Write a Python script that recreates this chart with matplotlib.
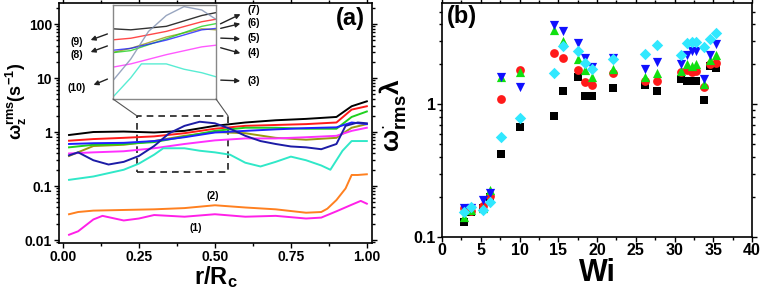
import numpy as np
import matplotlib
matplotlib.use('Agg')
import matplotlib.pyplot as plt
from matplotlib.ticker import MultipleLocator, LogLocator, FuncFormatter, NullFormatter
from matplotlib.patches import Rectangle, ConnectionPatch, FancyArrowPatch

plt.rcParams['font.family'] = ['Liberation Sans', 'DejaVu Sans']
plt.rcParams['font.weight'] = 'bold'
plt.rcParams['mathtext.fontset'] = 'custom'
plt.rcParams['mathtext.rm'] = 'Liberation Sans:bold'
plt.rcParams['mathtext.it'] = 'Liberation Sans:bold'
plt.rcParams['mathtext.bf'] = 'Liberation Sans:bold'
plt.rcParams['mathtext.default'] = 'bf'

# ---- panel (a): profiles along r/Rc ----
r_black = [0.02, 0.1, 0.2, 0.3, 0.4, 0.5, 0.6, 0.7, 0.8, 0.9, 0.95, 1.0]
v_black = [0.88, 1.0, 1.02, 0.98, 1.05, 1.3, 1.5, 1.65, 1.75, 1.9, 3.0, 3.7]
v_red = [0.69, 0.74, 0.78, 0.83, 0.95, 1.15, 1.3, 1.35, 1.4, 1.5, 2.6, 3.0]
v_green = [0.52, 0.58, 0.6, 0.65, 0.82, 1.05, 1.2, 1.2, 1.15, 1.15, 1.9, 2.4]
v_olive = [0.36, 0.55, 0.58, 0.68, 0.85, 1.0, 0.95, 0.78, 0.72, 0.78, 1.2, 1.4]
v_blue = [0.6, 0.62, 0.63, 0.68, 0.8, 0.98, 1.05, 1.12, 1.18, 1.22, 1.5, 1.4]
v_magenta = [0.4, 0.42, 0.44, 0.5, 0.6, 0.7, 0.76, 0.76, 0.8, 0.85, 1.05, 1.2]

r_navy = [0.02, 0.05, 0.1, 0.15, 0.2, 0.25, 0.3, 0.35, 0.4, 0.45, 0.5, 0.55, 0.6,
          0.65, 0.7, 0.75, 0.8, 0.85, 0.9, 0.93, 0.97, 1.0]
v_navy = [0.37, 0.42, 0.3, 0.25, 0.28, 0.36, 0.55, 0.95, 1.3, 1.55, 1.45, 1.15, 0.85,
          0.68, 0.6, 0.54, 0.52, 0.48, 0.6, 1.3, 1.5, 1.45]

r_cyan = [0.02, 0.1, 0.2, 0.25, 0.3, 0.33, 0.4, 0.45, 0.5, 0.55, 0.6, 0.65, 0.7,
          0.75, 0.8, 0.85, 0.88, 0.92, 0.95, 1.0]
v_cyan = [0.13, 0.15, 0.2, 0.26, 0.38, 0.5, 0.5, 0.45, 0.42, 0.38, 0.27, 0.23, 0.28,
          0.35, 0.3, 0.24, 0.2, 0.45, 0.68, 0.68]

r_low = [0.02, 0.05, 0.1, 0.2, 0.3, 0.4, 0.5, 0.6, 0.7, 0.8, 0.85, 0.87, 0.9,
         0.93, 0.95, 0.97, 1.0]
v_orange = [0.03, 0.033, 0.035, 0.036, 0.037, 0.039, 0.044, 0.04, 0.037, 0.032, 0.033,
            0.038, 0.055, 0.09, 0.16, 0.16, 0.165]
r_low2 = [0.02, 0.05, 0.1, 0.13, 0.2, 0.25, 0.3, 0.4, 0.5, 0.6, 0.7, 0.8, 0.85,
          0.9, 0.95, 0.98, 1.0]
v_mag1 = [0.0125, 0.0145, 0.024, 0.028, 0.023, 0.025, 0.029, 0.027, 0.03, 0.027, 0.028,
          0.025, 0.026, 0.034, 0.045, 0.053, 0.047]

# ---- panel (b): scaled rms vorticity vs Wi ----
wi = [2.9, 3.8, 5.3, 6.2, 7.6, 10.1, 14.5, 15.6, 17.5, 18.5, 19.4, 22.0, 26.2, 27.8,
      30.8, 31.6, 32.2, 32.8, 33.8, 34.6, 35.4]
b_black = [0.13, 0.155, 0.165, 0.2, 0.42, 0.68, 0.81, 1.27, 1.6, 1.15, 1.15, 1.33, 1.41,
           1.25, 1.56, 1.5, 1.5, 1.5, 1.08, 1.95, 1.89]
b_red = [0.165, 0.158, 0.17, 0.204, 1.09, 1.8, 2.45, 2.24, 1.8, 1.47, 1.41, 1.72, 1.5,
         1.5, 1.75, 1.8, 1.75, 1.77, 1.35, 2.02, 2.05]
b_green = [0.142, 0.16, 0.164, 0.226, 1.6, 1.75, 3.64, 2.99, 2.21, 1.8, 1.6, 1.85, 1.6,
           1.73, 1.77, 2.02, 1.95, 2.0, 1.43, 2.14, 2.34]
b_blue = [0.164, 0.165, 0.19, 0.213, 1.62, 1.35, 3.93, 3.56, 2.88, 2.24, 1.91, 2.25, 1.85,
          2.08, 2.02, 2.34, 2.52, 2.52, 1.54, 2.34, 2.86]
b_cyan = [0.153, 0.168, 0.16, 0.184, 0.568, 0.79, 1.72, 2.73, 2.52, 2.04, 1.85, 2.21, 2.38,
          2.81, 2.34, 2.91, 2.95, 2.95, 2.7, 3.12, 3.44]

W, H = 763, 297


def px(x, y):
    # pixel position (from top left) -> figure fraction
    return (x / W, 1 - y / H)


fig = plt.figure(figsize=(W / 100, H / 100), dpi=100)

ax = fig.add_axes([59 / W, 1 - 243 / H, 313 / W, 240 / H])
main_curves = [
    (r_black, v_black, 'black'),
    (r_black, v_red, '#ff1a1a'),
    (r_black, v_olive, '#9a9a10'),
    (r_black, v_green, '#1fd11f'),
    (r_black, v_blue, '#2020ff'),
    (r_black, v_magenta, '#ff30ff'),
    (r_navy, v_navy, '#1c1ca6'),
    (r_cyan, v_cyan, '#30e8c8'),
    (r_low, v_orange, '#ff8020'),
    (r_low2, v_mag1, '#ff20e8'),
]
for xs, ys, c in main_curves:
    ax.plot(xs, ys, color=c, lw=1.4)

ax.set_yscale('log')
ax.set_xlim(-0.013, 1.017)
ax.set_ylim(0.0088, 245)
ax.xaxis.set_major_locator(MultipleLocator(0.25))
ax.xaxis.set_minor_locator(MultipleLocator(0.125))
ax.xaxis.set_major_formatter(FuncFormatter(lambda v, p: '%.2f' % v))
ax.yaxis.set_major_locator(LogLocator(base=10))
ax.yaxis.set_minor_locator(LogLocator(base=10, subs=np.arange(2, 10)))
ax.yaxis.set_major_formatter(FuncFormatter(lambda v, p: '%g' % v))
ax.yaxis.set_minor_formatter(NullFormatter())
ax.set_xlabel(r'r/R$_\mathbf{c}$', fontsize=17, fontweight='bold', labelpad=0)
ax.set_ylabel(r'$\omega_z^{rms}$(s$^{-1}$)', fontsize=13, fontweight='bold')
ax.yaxis.set_label_coords(-0.097, 0.59)

# dashed zoom box and inset
ax.add_patch(Rectangle((0.243, 0.18), 0.3, 1.82, fill=False, ls=(0, (4, 3)),
                       lw=1.2, ec='#222222'))
ins = fig.add_axes([113 / W, 1 - 99 / H, 103 / W, 94 / H])
for xs, ys, c in main_curves[:8]:
    if c == '#1c1ca6':
        c = '#7f8fb0'
    ins.plot(xs, ys, color=c, lw=1.0, alpha=0.8)
ins.set_yscale('log')
ins.set_xlim(0.25, 0.54)
ins.set_ylim(0.25, 1.6)
ins.set_xticks([])
ins.set_yticks([])
ins.minorticks_off()
for s in ins.spines.values():
    s.set_color('#888888')
    s.set_linewidth(1.0)

for xa, xb in [(0, 0.243), (1, 0.543)]:
    con = ConnectionPatch(xyA=(xa, 0), coordsA=ins.transAxes, xyB=(xb, 2.0),
                          coordsB=ax.transData, color='#555555', lw=0.8)
    fig.add_artist(con)

# numbered labels with arrows
labels = [('(9)', (77, 42), (110, 33), (88, 41)),
          ('(8)', (77, 55), (110, 45), (88, 53)),
          ('(10)', (77, 88), (110, 78), (91, 86)),
          ('(7)', (254, 10), (218, 25), (243, 13)),
          ('(6)', (254, 23), (218, 29), (243, 23)),
          ('(5)', (254, 38), (218, 38), (243, 39)),
          ('(4)', (254, 53), (218, 47), (243, 54)),
          ('(3)', (254, 81), (218, 80), (243, 81))]
for txt, pos, a, b in labels:
    fig.text(*px(*pos), txt, fontsize=7.5, fontweight='bold', ha='center', va='center')
    fig.add_artist(FancyArrowPatch(
        px(*a), px(*b), transform=fig.transFigure, arrowstyle='-|>',
        mutation_scale=7, lw=1.0, color='#222222'))
fig.text(*px(213, 196), '(2)', fontsize=7.5, fontweight='bold', ha='center', va='center')
fig.text(*px(196, 228), '(1)', fontsize=7.5, fontweight='bold', ha='center', va='center')
fig.text(*px(350, 18), '(a)', fontsize=17, fontweight='bold', ha='center', va='center')

# ---- panel (b) ----
bx = fig.add_axes([442 / W, 1 - 237 / H, 310 / W, 234 / H])
series = [(b_black, 's', 'black', 34),
          (b_red, 'o', '#ff1a1a', 40),
          (b_green, '^', '#10e010', 44),
          (b_blue, 'v', '#1010ff', 44),
          (b_cyan, 'D', '#30e8ff', 34)]
for ys, m, c, s in series:
    bx.scatter(wi, ys, marker=m, color=c, s=s, lw=0, zorder=3)
bx.set_yscale('log')
bx.set_xlim(0, 40)
bx.set_ylim(0.1, 5.8)
bx.xaxis.set_major_locator(MultipleLocator(5))
bx.xaxis.set_minor_locator(MultipleLocator(2.5))
bx.yaxis.set_major_formatter(FuncFormatter(lambda v, p: '%g' % v))
bx.yaxis.set_minor_formatter(NullFormatter())
bx.set_xlabel('Wi', fontsize=22, fontweight='bold', labelpad=0)
bx.set_ylabel(r'$\omega_{rms}^{\cdot}\lambda$', fontsize=19, fontweight='bold')
bx.yaxis.set_label_coords(-0.11, 0.52)
fig.text(*px(462, 16), '(b)', fontsize=17, fontweight='bold', ha='center', va='center')

for a in (ax, bx):
    for s in a.spines.values():
        s.set_linewidth(1.2)
    a.tick_params(which='both', direction='out', labelsize=10, width=1.0, pad=1.5)
    a.tick_params(which='major', length=3.5)
    a.tick_params(which='minor', length=2)
    a.tick_params(which='both', right=True, top=True)
    for t in a.get_xticklabels() + a.get_yticklabels():
        t.set_fontweight('bold')
bx.tick_params(labelsize=11.5, pad=1)

fig.savefig('out.png', dpi=100)
